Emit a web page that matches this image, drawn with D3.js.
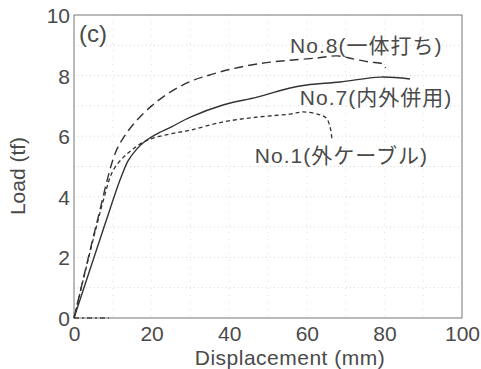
<!DOCTYPE html>
<html>
<head>
  <meta charset="utf-8">
  <script src="https://cdn.jsdelivr.net/npm/d3@7"></script>
  <style>
    body { margin: 0; background: #fff; }
    text { font-family: "Liberation Sans", "Noto Sans CJK JP", sans-serif; fill: #4a4a4a; }
  </style>
</head>
<body>
  <script>
    // Kurverne (forskydning mm, last tf)
    const no8 = [[0, 0], [5.8, 3.1], [10.6, 5.43], [13, 6.0], [16, 6.5], [20, 7.0], [23, 7.3],
      [27, 7.62], [31, 7.86], [35, 8.02], [40, 8.2], [48, 8.4], [55, 8.5], [62.6, 8.58],
      [67.8, 8.65], [72, 8.55], [76, 8.45], [79.6, 8.38], [80.3, 8.25]];
    const no7 = [[0, 0], [8, 3.1], [12, 4.6], [14, 5.2], [16, 5.55], [18, 5.8], [21, 6.05],
      [25, 6.3], [30, 6.63], [38.4, 7.03], [47.2, 7.29], [55.7, 7.59], [60, 7.69], [68.6, 7.79],
      [78.9, 7.95], [86.6, 7.89]];
    const no1 = [[0, 0], [7.6, 3.9], [10, 4.85], [12.7, 5.3], [15, 5.55], [17.5, 5.78], [20.4, 5.94],
      [25, 6.08], [30, 6.2], [38.4, 6.47], [47.2, 6.63], [55.7, 6.73], [59, 6.8], [63, 6.72],
      [65, 6.6], [66, 6.3], [66.5, 5.9]];
    const baseSeg = [[0, 0], [9, 0]];

    const xTicks = [0, 20, 40, 60, 80, 100];
    const yTicks = [0, 2, 4, 6, 8, 10];
    const xGrid = [10, 20, 30, 40, 50, 60, 70, 80, 90];
    const yGrid = [1, 2, 3, 4, 5, 6, 7, 8, 9];

    const labels = [
      { text: "No.8(一体打ち)", x: 55.7, y: 8.75 },
      { text: "No.7(内外併用)", x: 58.2, y: 7.03 },
      { text: "No.1(外ケーブル)", x: 46.6, y: 5.12 }
    ];

    const w = 481, h = 369;
    const pLeft = 74, pRight = 462, pTop = 15, pBottom = 318;

    const x = d3.scaleLinear().domain([0, 100]).range([pLeft, pRight]);
    const y = d3.scaleLinear().domain([0, 10]).range([pBottom, pTop]);

    const svg = d3.select("body").append("svg")
      .attr("width", w).attr("height", h);

    // Prikkede gitterlinjer
    svg.append("g").selectAll("line").data(yGrid).enter().append("line")
      .attr("x1", pLeft).attr("x2", pRight)
      .attr("y1", d => y(d)).attr("y2", d => y(d))
      .attr("stroke", "#d4d4d4").attr("stroke-width", 1).attr("stroke-dasharray", "1,3");
    svg.append("g").selectAll("line").data(xGrid).enter().append("line")
      .attr("y1", pTop).attr("y2", pBottom)
      .attr("x1", d => x(d)).attr("x2", d => x(d))
      .attr("stroke", "#e0e0e0").attr("stroke-width", 1).attr("stroke-dasharray", "1,6");

    // Akser
    const xAxis = d3.axisBottom(x).tickValues(xTicks).tickSize(0).tickPadding(7);
    const yAxis = d3.axisLeft(y).tickValues(yTicks).tickSize(0).tickPadding(4);
    const gx = svg.append("g").attr("transform", "translate(0," + pBottom + ")").call(xAxis);
    const gy = svg.append("g").attr("transform", "translate(" + pLeft + ",0)").call(yAxis);
    [gx, gy].forEach(g => {
      g.select(".domain").remove();
      g.selectAll("text").style("font-size", "21px").attr("fill", "#555");
    });
    gx.selectAll("text").attr("dy", "0.75em");
    gy.selectAll("text").attr("dy", "0.36em");

    // Ramme
    svg.append("rect")
      .attr("x", pLeft).attr("y", pTop)
      .attr("width", pRight - pLeft).attr("height", pBottom - pTop)
      .attr("fill", "none").attr("stroke", "#777").attr("stroke-width", 1);

    const curve = d3.line().x(d => x(d[0])).y(d => y(d[1])).curve(d3.curveCatmullRom);
    const straight = d3.line().x(d => x(d[0])).y(d => y(d[1]));

    svg.append("path").datum(no8).attr("d", curve)
      .attr("fill", "none").attr("stroke", "#333").attr("stroke-width", 1.4)
      .attr("stroke-dasharray", "9,5");
    svg.append("path").datum(no7).attr("d", curve)
      .attr("fill", "none").attr("stroke", "#333").attr("stroke-width", 1.4);
    svg.append("path").datum(no1).attr("d", curve)
      .attr("fill", "none").attr("stroke", "#333").attr("stroke-width", 1.3)
      .attr("stroke-dasharray", "4,3");
    svg.append("path").datum(baseSeg).attr("d", straight)
      .attr("fill", "none").attr("stroke", "#444").attr("stroke-width", 1.3)
      .attr("stroke-dasharray", "5,3,2,3");

    // Kurve-etiketter
    svg.selectAll(".lab").data(labels).enter().append("text")
      .attr("class", "lab")
      .attr("x", d => x(d.x)).attr("y", d => y(d.y))
      .style("font-size", "21px")
      .style("letter-spacing", "1px")
      .text(d => d.text);

    svg.append("text").attr("x", 79).attr("y", 42)
      .style("font-size", "24px").text("(c)");

    // Aksetitler
    svg.append("text")
      .attr("x", 290).attr("y", 365)
      .attr("text-anchor", "middle").style("font-size", "21px").attr("fill", "#555")
      .style("letter-spacing", "0.5px")
      .text("Displacement (mm)");
    svg.append("text")
      .attr("transform", "translate(25,176) rotate(-90)")
      .attr("text-anchor", "middle").style("font-size", "21px").attr("fill", "#555")
      .text("Load (tf)");
  </script>
</body>
</html>
